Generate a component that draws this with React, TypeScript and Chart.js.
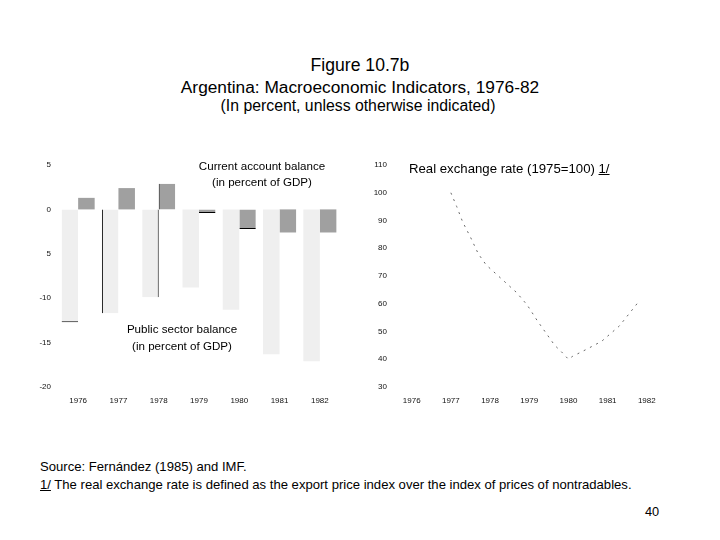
import React, { useEffect, useRef } from "react";
import { Chart, registerables } from "chart.js";

Chart.register(...registerables);

// ---------- data ----------
const years = ["1976", "1977", "1978", "1979", "1980", "1981", "1982"];
const publicSectorBalance = [-12.7, -11.7, -9.9, -8.8, -11.3, -16.3, -17.1];
const currentAccountBalance = [1.3, 2.4, 2.9, -0.4, -2.2, -2.6, -2.6];
const leftTickValues = [5, 0, -5, -10, -15, -20];
const leftTickLabels = ["5", "0", "5", "-10", "-15", "-20"];

const rerDates = [
  1977.0, 1977.15, 1977.3, 1977.5, 1977.7, 1977.9, 1978.68, 1978.95, 1979.2,
  1979.4, 1979.65, 1979.8, 1980.0, 1980.1, 1980.45, 1980.85, 1981.3, 1981.75,
];
const rerValues = [
  100, 95, 89.5, 84, 78, 74, 64, 59.5, 54, 50, 45, 43, 40, 41, 43.5, 46.5, 52, 60,
];
const rightYTicks = [110, 100, 90, 80, 70, 60, 50, 40, 30];
const rightXTicks = [1976, 1977, 1978, 1979, 1980, 1981, 1982];

const FONT = '"Liberation Sans", Arial, Helvetica, sans-serif';
const tickFont = { family: '"Liberation Sans Narrow", "Liberation Sans", Arial, sans-serif', size: 8 };
const tickColor = "#111";

function LeftChart() {
  const ref = useRef<HTMLCanvasElement>(null);
  useEffect(() => {
    const lightBorder = (i: number) =>
      i === 0 ? { bottom: 1 } : i === 1 ? { left: 1 } : i === 2 ? { right: 1 } : 0;
    const darkBorder = (i: number) =>
      i === 2 ? { left: 1 } : i === 3 || i === 4 ? { bottom: 1 } : 0;
    const chart = new Chart(ref.current!, {
      type: "bar",
      data: {
        labels: years,
        datasets: [
          {
            label: "Public sector balance",
            data: publicSectorBalance,
            backgroundColor: "#efefef",
            borderColor: "#000",
            borderSkipped: false,
            borderWidth: (c: any) => lightBorder(c.dataIndex),
          },
          {
            label: "Current account balance",
            data: currentAccountBalance,
            backgroundColor: "#a0a0a0",
            borderColor: "#000",
            borderSkipped: false,
            borderWidth: (c: any) => darkBorder(c.dataIndex),
          },
        ],
      },
      options: {
        animation: false,
        responsive: false,
        maintainAspectRatio: false,
        layout: { padding: { top: 15, right: 20, left: 0, bottom: 0 } },
        datasets: { bar: { categoryPercentage: 0.82, barPercentage: 1 } },
        plugins: { legend: { display: false }, tooltip: { enabled: false } },
        scales: {
          x: {
            grid: { display: false, drawTicks: false },
            border: { display: false },
            ticks: { font: tickFont, color: tickColor, padding: 9, maxRotation: 0 },
            afterFit: (s: any) => {
              s.height = 33;
            },
          },
          y: {
            min: -20,
            max: 5,
            grid: { display: false, drawTicks: false },
            border: { display: false },
            afterBuildTicks: (s: any) => {
              s.ticks = leftTickValues.map((v) => ({ value: v }));
            },
            ticks: {
              font: tickFont,
              color: tickColor,
              padding: 7,
              callback: (v: any) => leftTickLabels[leftTickValues.indexOf(Number(v))],
            },
            afterFit: (s: any) => {
              s.width = 58;
            },
          },
        },
      } as any,
    });
    return () => chart.destroy();
  }, []);
  return (
    <canvas
      ref={ref}
      width={360}
      height={270}
      style={{ position: "absolute", left: 0, top: 150, width: 360, height: 270 }}
    />
  );
}

function RightChart() {
  const ref = useRef<HTMLCanvasElement>(null);
  useEffect(() => {
    const chart = new Chart(ref.current!, {
      type: "line",
      data: {
        datasets: [
          {
            label: "Real exchange rate (1975=100)",
            data: rerDates.map((x, i) => ({ x, y: rerValues[i] })),
            borderColor: "#666",
            borderWidth: 1,
            borderDash: [2, 5],
            pointRadius: 0,
            tension: 0,
            fill: false,
          },
        ],
      },
      options: {
        animation: false,
        responsive: false,
        maintainAspectRatio: false,
        layout: { padding: { top: 15, right: 17.5, left: 0, bottom: 0 } },
        plugins: { legend: { display: false }, tooltip: { enabled: false } },
        scales: {
          x: {
            type: "linear",
            min: 1975.6,
            max: 1982.4,
            grid: { display: false, drawTicks: false },
            border: { display: false },
            afterBuildTicks: (s: any) => {
              s.ticks = rightXTicks.map((v) => ({ value: v }));
            },
            ticks: {
              font: tickFont,
              color: tickColor,
              padding: 9,
              maxRotation: 0,
              callback: (v: any) => String(v),
            },
            afterFit: (s: any) => {
              s.height = 33;
            },
          },
          y: {
            min: 30,
            max: 110,
            grid: { display: false, drawTicks: false },
            border: { display: false },
            afterBuildTicks: (s: any) => {
              s.ticks = rightYTicks.map((v) => ({ value: v }));
            },
            ticks: { font: tickFont, color: tickColor, padding: 9 },
            afterFit: (s: any) => {
              s.width = 36;
            },
          },
        },
      } as any,
    });
    return () => chart.destroy();
  }, []);
  return (
    <canvas
      ref={ref}
      width={320}
      height={270}
      style={{ position: "absolute", left: 360, top: 150, width: 320, height: 270 }}
    />
  );
}

function T(props: {
  x: number;
  y: number;
  size: number;
  align?: "left" | "center";
  children: React.ReactNode;
}) {
  const { x, y, size, align = "center", children } = props;
  const style: React.CSSProperties = {
    position: "absolute",
    top: y - size * 0.49,
    fontSize: size,
    lineHeight: 1,
    fontFamily: FONT,
    whiteSpace: "nowrap",
    color: "#000",
  };
  if (align === "center") {
    style.left = x - 300;
    style.width = 600;
    style.textAlign = "center";
  } else {
    style.left = x;
  }
  return <div style={style}>{children}</div>;
}

export default function App() {
  return (
    <div
      style={{
        position: "fixed",
        left: 0,
        top: 0,
        width: 720,
        height: 540,
        background: "#fff",
        overflow: "hidden",
      }}
    >
      <T x={360} y={66} size={17.6}>Figure 10.7b</T>
      <T x={360} y={87} size={17.3}>Argentina: Macroeconomic Indicators, 1976-82</T>
      <T x={358} y={106} size={15.8}>(In percent, unless otherwise indicated)</T>

      <LeftChart />
      <RightChart />

      <T x={262} y={166} size={11.6}>Current account balance</T>
      <T x={262} y={182} size={11.6}>(in percent of GDP)</T>
      <T x={182} y={329} size={11.6}>Public sector balance</T>
      <T x={182} y={346} size={11.6}>(in percent of GDP)</T>

      <T x={409} y={168} size={13.2} align="left">
        Real exchange rate (1975=100) <span style={{ textDecoration: "underline" }}>1/</span>
      </T>

      <T x={40} y={466} size={13.1} align="left">Source: Fernández (1985) and IMF.</T>
      <T x={40} y={484} size={13.1} align="left">
        <span style={{ textDecoration: "underline" }}>1/</span> The real exchange rate is defined as the export price index over the index of prices of nontradables.
      </T>
      <T x={645} y={512} size={12.8} align="left">40</T>
    </div>
  );
}
